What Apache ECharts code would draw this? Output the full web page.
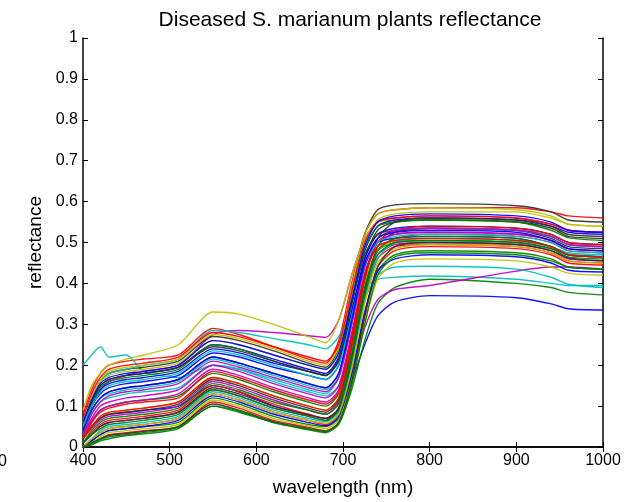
<!DOCTYPE html>
<html>
<head>
<meta charset="utf-8">
<script src="https://cdn.jsdelivr.net/npm/echarts@6/dist/echarts.min.js"></script>
<style>
  html, body { margin: 0; padding: 0; background: #fff; }
  #main { width: 639px; height: 502px; }
</style>
</head>
<body>
<div id="main"></div>
<script>
// wavelengths (nm) sampled for every spectrum
const wavelength = [400, 410, 420, 430, 450, 470, 510, 550, 580, 620, 660, 680, 695, 710, 725, 740, 760, 800, 900, 940, 960, 1000]
const xTicks = [400, 500, 600, 700, 800, 900, 1000]
const yTicks = [0, 0.1, 0.2, 0.3, 0.4, 0.5, 0.6, 0.7, 0.8, 0.9, 1]

// reflectance of each plant
const p00 = [0.02, 0.05, 0.07, 0.08, 0.085, 0.09, 0.1, 0.15, 0.135, 0.1, 0.08, 0.07, 0.09, 0.16, 0.25, 0.32, 0.355, 0.37, 0.365, 0.35, 0.338, 0.335]
const p01 = [0.0, 0.005, 0.015, 0.02, 0.028, 0.032, 0.045, 0.1, 0.085, 0.06, 0.042, 0.035, 0.055, 0.14, 0.26, 0.35, 0.39, 0.41, 0.4, 0.39, 0.378, 0.372]
const p02 = [0.08, 0.14, 0.18, 0.2, 0.21, 0.215, 0.225, 0.29, 0.275, 0.245, 0.215, 0.205, 0.26, 0.4, 0.52, 0.57, 0.58, 0.585, 0.585, 0.575, 0.565, 0.56]
const p03 = [0.2, 0.225, 0.245, 0.22, 0.225, 0.185, 0.17, 0.2, 0.19, 0.165, 0.14, 0.13, 0.17, 0.3, 0.43, 0.49, 0.505, 0.51, 0.505, 0.49, 0.475, 0.47]
const p04 = [0.05, 0.1, 0.14, 0.16, 0.175, 0.185, 0.2, 0.275, 0.285, 0.28, 0.272, 0.268, 0.31, 0.42, 0.51, 0.55, 0.56, 0.565, 0.56, 0.545, 0.53, 0.525]
const p05 = [0.09, 0.15, 0.18, 0.2, 0.215, 0.225, 0.25, 0.33, 0.325, 0.3, 0.27, 0.255, 0.31, 0.42, 0.51, 0.55, 0.555, 0.555, 0.55, 0.535, 0.52, 0.515]
const p06 = [0.06, 0.12, 0.16, 0.18, 0.19, 0.195, 0.21, 0.27, 0.26, 0.235, 0.205, 0.195, 0.24, 0.38, 0.52, 0.58, 0.592, 0.595, 0.59, 0.575, 0.555, 0.55]
const p07 = [0.05, 0.11, 0.15, 0.165, 0.175, 0.18, 0.195, 0.25, 0.24, 0.215, 0.19, 0.18, 0.22, 0.35, 0.48, 0.54, 0.555, 0.56, 0.555, 0.54, 0.525, 0.52]
const p08 = [0.02, 0.06, 0.09, 0.1, 0.11, 0.115, 0.125, 0.18, 0.165, 0.135, 0.11, 0.1, 0.13, 0.26, 0.4, 0.48, 0.5, 0.505, 0.5, 0.485, 0.47, 0.465]
const p09 = [0.0, 0.02, 0.035, 0.045, 0.05, 0.055, 0.07, 0.13, 0.115, 0.085, 0.065, 0.055, 0.08, 0.2, 0.36, 0.46, 0.49, 0.495, 0.49, 0.475, 0.455, 0.45]
const p10 = [0.06, 0.12, 0.16, 0.18, 0.19, 0.2, 0.215, 0.285, 0.28, 0.265, 0.25, 0.24, 0.27, 0.34, 0.39, 0.41, 0.415, 0.418, 0.41, 0.4, 0.395, 0.395]
const p11 = [0.01, 0.03, 0.05, 0.06, 0.065, 0.07, 0.085, 0.14, 0.125, 0.095, 0.075, 0.065, 0.09, 0.18, 0.29, 0.36, 0.385, 0.395, 0.43, 0.44, 0.44, 0.435]
const p12 = [0.06, 0.12, 0.16, 0.175, 0.185, 0.19, 0.205, 0.26, 0.25, 0.225, 0.2, 0.19, 0.235, 0.37, 0.5, 0.555, 0.57, 0.575, 0.575, 0.56, 0.545, 0.54]
const p13 = [0.04, 0.09, 0.12, 0.135, 0.145, 0.15, 0.165, 0.22, 0.205, 0.18, 0.155, 0.145, 0.18, 0.32, 0.46, 0.53, 0.55, 0.555, 0.55, 0.535, 0.515, 0.51]
const p14 = [0.05, 0.1, 0.14, 0.155, 0.165, 0.17, 0.185, 0.24, 0.23, 0.205, 0.185, 0.175, 0.21, 0.33, 0.46, 0.52, 0.535, 0.54, 0.535, 0.52, 0.5, 0.495]
const p15 = [0.0, 0.015, 0.03, 0.04, 0.045, 0.05, 0.06, 0.12, 0.105, 0.075, 0.055, 0.05, 0.07, 0.17, 0.32, 0.43, 0.47, 0.48, 0.475, 0.46, 0.44, 0.435]
const p16 = [0.01, 0.035, 0.055, 0.065, 0.07, 0.075, 0.09, 0.15, 0.135, 0.105, 0.08, 0.07, 0.095, 0.22, 0.38, 0.48, 0.51, 0.52, 0.515, 0.5, 0.48, 0.475]
const p17 = [0.03, 0.08, 0.11, 0.12, 0.13, 0.135, 0.145, 0.2, 0.19, 0.16, 0.135, 0.125, 0.15, 0.25, 0.36, 0.42, 0.44, 0.442, 0.435, 0.415, 0.398, 0.39]
const p18 = [0.02, 0.045, 0.065, 0.075, 0.08, 0.085, 0.1, 0.16, 0.145, 0.115, 0.09, 0.08, 0.11, 0.24, 0.39, 0.47, 0.495, 0.5, 0.495, 0.48, 0.46, 0.455]
const p19 = [0.02, 0.05, 0.07, 0.08, 0.09, 0.095, 0.11, 0.17, 0.155, 0.125, 0.1, 0.09, 0.12, 0.25, 0.4, 0.48, 0.505, 0.51, 0.505, 0.49, 0.47, 0.465]
const p20 = [0.01, 0.03, 0.05, 0.06, 0.065, 0.07, 0.085, 0.145, 0.13, 0.1, 0.078, 0.07, 0.095, 0.22, 0.38, 0.49, 0.525, 0.535, 0.53, 0.515, 0.495, 0.49]
const p21 = [0.04, 0.1, 0.13, 0.145, 0.155, 0.16, 0.175, 0.23, 0.22, 0.195, 0.175, 0.165, 0.2, 0.33, 0.45, 0.5, 0.51, 0.515, 0.51, 0.49, 0.47, 0.465]
const p22 = [0.05, 0.105, 0.145, 0.16, 0.17, 0.175, 0.19, 0.25, 0.24, 0.21, 0.185, 0.175, 0.215, 0.35, 0.48, 0.54, 0.55, 0.555, 0.55, 0.53, 0.512, 0.505]
const p23 = [0.0, 0.01, 0.02, 0.03, 0.035, 0.04, 0.05, 0.11, 0.095, 0.065, 0.048, 0.04, 0.06, 0.16, 0.32, 0.44, 0.48, 0.49, 0.485, 0.47, 0.45, 0.445]
const p24 = [0.0, 0.02, 0.04, 0.05, 0.055, 0.06, 0.075, 0.135, 0.12, 0.09, 0.07, 0.062, 0.085, 0.2, 0.36, 0.46, 0.5, 0.51, 0.505, 0.49, 0.472, 0.465]
const p25 = [0.03, 0.07, 0.1, 0.11, 0.12, 0.125, 0.14, 0.2, 0.185, 0.155, 0.13, 0.12, 0.15, 0.28, 0.42, 0.5, 0.52, 0.525, 0.52, 0.505, 0.485, 0.48]
const p26 = [0.06, 0.12, 0.165, 0.185, 0.195, 0.2, 0.215, 0.275, 0.265, 0.24, 0.21, 0.2, 0.245, 0.39, 0.52, 0.57, 0.58, 0.585, 0.58, 0.565, 0.545, 0.54]
const p27 = [0.05, 0.11, 0.15, 0.165, 0.175, 0.18, 0.195, 0.245, 0.235, 0.21, 0.185, 0.175, 0.215, 0.35, 0.47, 0.52, 0.53, 0.535, 0.53, 0.51, 0.49, 0.485]
const p28 = [0.0, 0.015, 0.03, 0.04, 0.045, 0.05, 0.065, 0.125, 0.11, 0.08, 0.06, 0.052, 0.075, 0.18, 0.33, 0.43, 0.46, 0.47, 0.465, 0.45, 0.432, 0.428]
const p29 = [0.01, 0.04, 0.06, 0.07, 0.075, 0.08, 0.095, 0.155, 0.14, 0.11, 0.09, 0.08, 0.105, 0.23, 0.39, 0.48, 0.51, 0.515, 0.51, 0.49, 0.47, 0.465]
const p30 = [0.07, 0.13, 0.17, 0.19, 0.2, 0.205, 0.22, 0.28, 0.27, 0.245, 0.22, 0.21, 0.25, 0.38, 0.5, 0.55, 0.56, 0.565, 0.56, 0.545, 0.53, 0.525]
const p31 = [0.04, 0.09, 0.12, 0.13, 0.14, 0.145, 0.16, 0.215, 0.2, 0.175, 0.15, 0.14, 0.17, 0.3, 0.44, 0.51, 0.53, 0.535, 0.53, 0.515, 0.495, 0.49]
const p32 = [0.03, 0.065, 0.09, 0.1, 0.11, 0.115, 0.13, 0.19, 0.175, 0.145, 0.12, 0.11, 0.14, 0.27, 0.42, 0.5, 0.52, 0.525, 0.52, 0.505, 0.485, 0.48]
const p33 = [0.0, 0.01, 0.025, 0.035, 0.04, 0.045, 0.055, 0.115, 0.1, 0.07, 0.052, 0.045, 0.065, 0.16, 0.3, 0.41, 0.45, 0.46, 0.455, 0.44, 0.425, 0.42]
const p34 = [0.02, 0.05, 0.07, 0.08, 0.085, 0.09, 0.105, 0.165, 0.15, 0.12, 0.095, 0.085, 0.115, 0.25, 0.41, 0.51, 0.55, 0.56, 0.555, 0.54, 0.52, 0.515]
const p35 = [0.06, 0.115, 0.155, 0.17, 0.18, 0.185, 0.2, 0.26, 0.25, 0.225, 0.2, 0.19, 0.23, 0.36, 0.49, 0.55, 0.565, 0.57, 0.565, 0.55, 0.53, 0.525]
const p36 = [0.01, 0.03, 0.045, 0.055, 0.06, 0.065, 0.08, 0.14, 0.125, 0.095, 0.075, 0.065, 0.09, 0.21, 0.37, 0.47, 0.5, 0.505, 0.5, 0.485, 0.465, 0.46]
const p37 = [0.02, 0.05, 0.075, 0.085, 0.09, 0.095, 0.11, 0.17, 0.155, 0.125, 0.1, 0.09, 0.12, 0.25, 0.41, 0.5, 0.53, 0.54, 0.535, 0.52, 0.5, 0.495]
const p38 = [0.05, 0.1, 0.135, 0.15, 0.16, 0.165, 0.18, 0.235, 0.225, 0.2, 0.175, 0.165, 0.2, 0.32, 0.44, 0.5, 0.515, 0.52, 0.515, 0.5, 0.48, 0.475]
const p39 = [0.03, 0.08, 0.11, 0.125, 0.135, 0.14, 0.155, 0.21, 0.195, 0.17, 0.145, 0.135, 0.17, 0.3, 0.44, 0.51, 0.53, 0.535, 0.53, 0.515, 0.495, 0.49]
const p40 = [0.0, 0.02, 0.035, 0.045, 0.05, 0.055, 0.07, 0.13, 0.115, 0.085, 0.065, 0.058, 0.08, 0.19, 0.35, 0.45, 0.485, 0.495, 0.49, 0.475, 0.455, 0.45]
const p41 = [0.0, 0.01, 0.02, 0.028, 0.033, 0.038, 0.05, 0.105, 0.09, 0.062, 0.045, 0.038, 0.06, 0.16, 0.32, 0.44, 0.49, 0.5, 0.495, 0.48, 0.462, 0.455]
const p42 = [0.04, 0.09, 0.12, 0.135, 0.145, 0.15, 0.165, 0.22, 0.205, 0.18, 0.155, 0.145, 0.18, 0.31, 0.45, 0.51, 0.525, 0.53, 0.525, 0.505, 0.485, 0.48]
const p43 = [0.0, 0.008, 0.018, 0.025, 0.03, 0.035, 0.048, 0.1, 0.088, 0.06, 0.045, 0.038, 0.058, 0.15, 0.3, 0.42, 0.465, 0.475, 0.47, 0.455, 0.44, 0.435]
const p44 = [0.02, 0.06, 0.085, 0.095, 0.105, 0.11, 0.12, 0.185, 0.17, 0.14, 0.115, 0.105, 0.135, 0.27, 0.42, 0.49, 0.505, 0.51, 0.505, 0.49, 0.47, 0.465]

const plants = [p00, p01, p02, p03, p04, p05, p06, p07, p08, p09, p10, p11, p12, p13, p14,
  p15, p16, p17, p18, p19, p20, p21, p22, p23, p24, p25, p26, p27, p28, p29,
  p30, p31, p32, p33, p34, p35, p36, p37, p38, p39, p40, p41, p42, p43, p44]

// old matplotlib colour cycle: b g r c m y k
const cycle = ['#0000ff', '#008000', '#ff0000', '#00bfbf', '#bf00bf', '#bfbf00', '#303030']

const chart = echarts.init(document.getElementById('main'))

const font = 'Liberation Sans, Arial, sans-serif'
const tickStyle = { show: true, inside: true, length: 5, lineStyle: { color: '#000', width: 1 } }
const lineBlack = { show: true, lineStyle: { color: '#000', width: 1.5 } }

const series = plants.map((vals, i) => ({
  type: 'line',
  data: wavelength.map((w, j) => [w, vals[j]]),
  showSymbol: false,
  smooth: 0.25,
  lineStyle: { width: 1.4, color: cycle[i % cycle.length], opacity: 0.92 },
  itemStyle: { color: cycle[i % cycle.length] },
  silent: true,
  z: 2
}))

const option = {
  animation: false,
  title: {
    text: 'Diseased S. marianum plants reflectance',
    left: 345,
    top: 5,
    textAlign: 'center',
    textStyle: { fontFamily: font, fontSize: 21, fontWeight: 'normal', color: '#000' }
  },
  grid: { left: 83, right: 36, top: 38, bottom: 54 },
  xAxis: [
    {
      type: 'value',
      min: xTicks[0],
      max: xTicks[xTicks.length - 1],
      interval: 100,
      name: 'wavelength (nm)',
      nameLocation: 'middle',
      nameGap: 31,
      nameTextStyle: { fontFamily: font, fontSize: 19, color: '#000' },
      axisLine: lineBlack,
      axisTick: tickStyle,
      axisLabel: { fontFamily: font, fontSize: 16, color: '#000', margin: 6, formatter: v => String(v) },
      splitLine: { show: false }
    },
    {
      type: 'value',
      position: 'top',
      min: xTicks[0],
      max: xTicks[xTicks.length - 1],
      interval: 100,
      axisLine: lineBlack,
      axisTick: tickStyle,
      axisLabel: { show: false },
      splitLine: { show: false }
    }
  ],
  yAxis: [
    {
      type: 'value',
      min: yTicks[0],
      max: yTicks[yTicks.length - 1],
      interval: 0.1,
      name: 'reflectance',
      nameLocation: 'middle',
      nameGap: 37,
      nameTextStyle: { fontFamily: font, fontSize: 19, color: '#000' },
      axisLine: lineBlack,
      axisTick: tickStyle,
      axisLabel: { fontFamily: font, fontSize: 16, color: '#000', margin: 5 },
      splitLine: { show: false }
    },
    {
      type: 'value',
      position: 'right',
      min: yTicks[0],
      max: yTicks[yTicks.length - 1],
      interval: 0.1,
      axisLine: lineBlack,
      axisTick: tickStyle,
      axisLabel: { show: false },
      splitLine: { show: false }
    }
  ],
  graphic: [
    {
      // clipped tick label from the neighbouring panel
      type: 'text',
      left: -2,
      top: 454,
      style: { text: '0', fontFamily: font, fontSize: 16, fill: '#000' }
    }
  ],
  series: series
}

chart.setOption(option)
</script>
</body>
</html>
